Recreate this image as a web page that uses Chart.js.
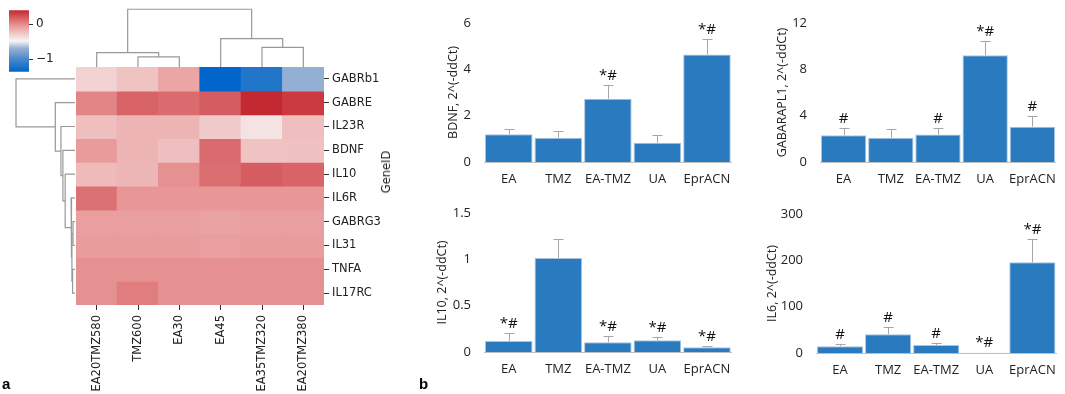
<!DOCTYPE html>
<html><head><meta charset="utf-8">
<script src="https://cdn.jsdelivr.net/npm/chart.js@4/dist/chart.umd.min.js"></script>
<style>
html,body{margin:0;padding:0;background:#fff;}
#wrap{position:relative;width:1065px;height:394px;overflow:hidden;background:#fff;}
canvas{position:absolute;}
.txt{position:absolute;white-space:nowrap;color:#222;}
</style></head><body>
<div id="wrap">
<canvas id="heat" style="left:0;top:0" width="400" height="394"></canvas>
<canvas id="dtop" style="left:76px;top:0" width="248" height="67"></canvas>
<canvas id="dleft" style="left:0;top:67px" width="75" height="238"></canvas>
<canvas id="cbar" style="left:0;top:0" width="70" height="82"></canvas>
<canvas id="c1" style="left:400px;top:0" width="340" height="195"></canvas>
<canvas id="c2" style="left:740px;top:0" width="325" height="195"></canvas>
<canvas id="c3" style="left:400px;top:190px" width="340" height="204"></canvas>
<canvas id="c4" style="left:740px;top:190px" width="325" height="204"></canvas>
<div class="txt" style="left:386px;top:172px;font:11.5px 'DejaVu Sans';transform:translate(-50%,-50%) rotate(-90deg);">GeneID</div>
<div class="txt" style="left:2px;top:375px;font:bold 15px 'Liberation Sans';line-height:17px;color:#000;">a</div>
<div class="txt" style="left:419px;top:375px;font:bold 15px 'Liberation Sans';line-height:17px;color:#000;">b</div>
</div>
<script>
// ---------- heatmap data ----------
const samples = ['EA20TMZ580','TMZ600','EA30','EA45','EA35TMZ320','EA20TMZ380'];
const genes = ['GABRb1','GABRE','IL23R','BDNF','IL10','IL6R','GABRG3','IL31','TNFA','IL17RC'];
const heatValues = [
  [-0.32,-0.25,-0.11,-1.36,-1.19,-0.70],
  [ 0.03, 0.16, 0.13, 0.19, 0.40, 0.33],
  [-0.23,-0.18,-0.18,-0.29,-0.40,-0.23],
  [-0.06,-0.18,-0.23, 0.13,-0.25,-0.24],
  [-0.21,-0.19,-0.02, 0.12, 0.19, 0.16],
  [ 0.11,-0.04,-0.04,-0.04,-0.04,-0.04],
  [-0.08,-0.08,-0.08,-0.10,-0.08,-0.08],
  [-0.07,-0.07,-0.07,-0.08,-0.07,-0.07],
  [-0.02,-0.02,-0.02,-0.02,-0.02,-0.02],
  [-0.02, 0.06,-0.02,-0.02,-0.02,-0.02]
];
const cbMin = -1.36, cbMax = 0.40;
const cbTicks = [-1, 0];
// dendrogram linkages: [left node, right node, distance]
const colLinkage = [[1,2,0.35],[0,6,0.50],[4,5,0.68],[3,8,0.98],[7,9,2.0]];
const rowLinkage = [[8,9,0.085],[6,7,0.07],[11,10,0.11],[5,12,0.14],[4,13,0.35],[3,14,0.43],[2,15,0.50],[1,16,0.70],[0,17,2.1]];

// ---------- bar chart data ----------
const groups = ['EA','TMZ','EA-TMZ','UA','EprACN'];
const bdnfVals = [1.2, 1.05, 2.73, 0.83, 4.64];
const bdnfErr  = [0.23, 0.27, 0.59, 0.32, 0.65];
const bdnfMarks = ['', '', '*#', '', '*#'];
const gabaVals = [2.3, 2.1, 2.38, 9.22, 3.05];
const gabaErr  = [0.63, 0.77, 0.52, 1.24, 0.89];
const gabaMarks = ['#', '', '#', '*#', '#'];
const il10Vals = [0.12, 1.015, 0.104, 0.128, 0.05];
const il10Err  = [0.08, 0.205, 0.071, 0.032, 0.01];
const il10Marks = ['*#', '', '*#', '*#', '*#'];
const il6Vals = [14.4, 40.6, 17.4, 0.5, 195.7];
const il6Err  = [5.6, 15.1, 4.3, 0, 49.3];
const il6Marks = ['#', '#', '#', '*#', '*#'];

// ---------- helpers ----------
const FH = '"DejaVu Sans", sans-serif';
const FB = '"Open Sans", sans-serif';
const cmapStops = [[0,[0,102,204]],[0.2,[70,135,200]],[0.38,[150,176,212]],[0.5,[248,244,244]],[0.75,[232,150,150]],[1,[196,40,48]]];
const rgb = c => `rgb(${Math.round(c[0])},${Math.round(c[1])},${Math.round(c[2])})`;
function cmap(v){
  let t = (v - cbMin)/(cbMax - cbMin); t = Math.max(0, Math.min(1, t));
  for (let i=1;i<cmapStops.length;i++){
    const [t0,c0]=cmapStops[i-1],[t1,c1]=cmapStops[i];
    if (t<=t1){ const f=(t-t0)/(t1-t0); return rgb(c0.map((a,k)=>a+(c1[k]-a)*f)); }
  }
  return rgb(cmapStops[cmapStops.length-1][1]);
}
const base = {responsive:false, animation:false, events:[], plugins:{legend:{display:false}, tooltip:{enabled:false}}};

// ---------- heatmap ----------
new Chart(document.getElementById('heat'), {
  type:'bar',
  data:{labels:samples, datasets: genes.map((g,r)=>({
    label:g, data: samples.map(()=>[r, r+1]),
    backgroundColor: heatValues[r].map(cmap),
    borderWidth:0, barPercentage:1, categoryPercentage:1, grouped:false, inflateAmount:0.6
  }))},
  options:{...base,
    layout:{padding:{left:76, top:67, right:0, bottom:0}},
    scales:{
      x:{offset:true, grid:{display:true, offset:false, drawOnChartArea:false, drawTicks:true, tickLength:5, color:'#333'}, border:{display:false},
         ticks:{autoSkip:false, minRotation:90, maxRotation:90, padding:5, color:'#222', font:{family:FH, size:11.5}},
         afterFit:s=>{s.height=89;}},
      y:{position:'right', min:0, max:10, reverse:true,
         grid:{display:true, drawOnChartArea:false, drawTicks:true, tickLength:5, color:'#333'}, border:{display:false},
         ticks:{padding:3, color:'#222', font:{family:FH, size:11.5}, callback:(v,i)=>genes[i]},
         afterBuildTicks:s=>{s.ticks = genes.map((g,i)=>({value:i+0.5}));},
         afterFit:s=>{s.width=76;}}
    }
  }
});

// ---------- dendrograms ----------
function dendroSegments(n, linkage){
  const pos=[], hgt=[];
  for(let i=0;i<n;i++){pos[i]=i; hgt[i]=0;}
  return linkage.map(([a,b,h],k)=>{
    const seg=[[pos[a],hgt[a]],[pos[a],h],[pos[b],h],[pos[b],hgt[b]]];
    pos[n+k]=(pos[a]+pos[b])/2; hgt[n+k]=h;
    return seg;
  });
}
const dlineStyle = {showLine:true, pointRadius:0, borderColor:'#999', borderWidth:1.2, fill:false, tension:0};
new Chart(document.getElementById('dtop'), {
  type:'scatter',
  data:{datasets: dendroSegments(samples.length, colLinkage).map(seg=>({...dlineStyle, data: seg.map(([p,h])=>({x:p, y:h}))}))},
  options:{...base, layout:{padding:0}, scales:{x:{display:false, min:-0.5, max:5.5}, y:{display:false, min:0, max:2.32}}}
});
new Chart(document.getElementById('dleft'), {
  type:'scatter',
  data:{datasets: dendroSegments(genes.length, rowLinkage).map(seg=>({...dlineStyle, data: seg.map(([p,h])=>({x:h, y:p+0.5}))}))},
  options:{...base, layout:{padding:0}, scales:{x:{display:false, min:0, max:2.67, reverse:true}, y:{display:false, min:0, max:10, reverse:true}}}
});

// ---------- colorbar ----------
new Chart(document.getElementById('cbar'), {
  type:'bar',
  data:{labels:[''], datasets:[{data:[[cbMin, cbMax]], borderWidth:0, barPercentage:1, categoryPercentage:1,
    backgroundColor:(ctx)=>{
      const ch=ctx.chart, ca=ch.chartArea; if(!ca) return '#fff';
      const g=ch.ctx.createLinearGradient(0, ca.bottom, 0, ca.top);
      cmapStops.forEach(([t,c])=>g.addColorStop(t, rgb(c)));
      return g;
    }}]},
  options:{...base, layout:{padding:{left:9, top:3, bottom:6, right:0}},
    scales:{x:{display:false},
      y:{position:'right', min:cbMin, max:cbMax,
         grid:{display:true, drawOnChartArea:false, drawTicks:true, tickLength:4, color:'#333'}, border:{display:false},
         ticks:{padding:3, color:'#222', font:{family:FH, size:12}, callback:v=> v<0 ? '\u2212'+Math.abs(v) : String(v)},
         afterBuildTicks:s=>{s.ticks = cbTicks.map(v=>({value:v}));},
         afterFit:s=>{s.width=41;}}}}
});

// ---------- bar charts ----------
const errPlugin = {
  id:'errbars',
  afterDatasetsDraw(chart){
    const ctx=chart.ctx, ds=chart.data.datasets[0], meta=chart.getDatasetMeta(0), ys=chart.scales.y;
    ctx.save();
    meta.data.forEach((bar,i)=>{
      let top = bar.y;
      const e = ds.errs[i];
      if (e > 0){
        const ey = Math.round(ys.getPixelForValue(ds.data[i]+e))+0.5;
        const x = Math.round(bar.x)+0.5;
        ctx.strokeStyle='#a6a6a6'; ctx.lineWidth=1;
        ctx.beginPath(); ctx.moveTo(x, bar.y); ctx.lineTo(x, ey);
        ctx.moveTo(x-5, ey); ctx.lineTo(x+5, ey); ctx.stroke();
        top = ey;
      }
      const m = ds.marks[i];
      if (m){
        ctx.fillStyle='#111'; ctx.font='15px '+FB; ctx.textAlign='center'; ctx.textBaseline='alphabetic';
        ctx.fillText(m, bar.x, top-6);
      }
    });
    ctx.restore();
  }
};
function barChart(id, vals, errs, marks, yMax, yStep, title, L){
  new Chart(document.getElementById(id), {
    type:'bar',
    data:{labels:groups, datasets:[{data:vals, errs:errs, marks:marks, backgroundColor:'#2a7ac0', borderColor:'#a9c4de', borderWidth:1,
      categoryPercentage:0.96, barPercentage:1}]},
    options:{...base,
      layout:{padding:{left:L.pl, top:L.pt, right:L.pr, bottom:0}},
      scales:{
        x:{grid:{display:false, drawTicks:false}, border:{display:true, color:'#bfbfbf', width:1},
           ticks:{padding:9, maxRotation:0, minRotation:0, autoSkip:false, color:'#222', font:{family:FB, size:13}}, afterFit:s=>{s.height=L.hx;}},
        y:{min:0, max:yMax, grid:{display:false, drawTicks:false}, border:{display:false},
           ticks:{stepSize:yStep, padding:13, color:'#222', font:{family:FB, size:13}, callback:v=>String(+v.toFixed(2))},
           title:{display:true, text:title, color:'#222', font:{family:FB, size:12.5}, padding:{top:0, bottom:0}},
           afterFit:s=>{s.width=L.wy;}}
      }
    },
    plugins:[errPlugin]
  });
}
barChart('c1', bdnfVals, bdnfErr, bdnfMarks, 6, 2, 'BDNF, 2^(-ddCt)', {pl:46, wy:38, pt:23, pr:7, hx:33});
barChart('c2', gabaVals, gabaErr, gabaMarks, 12, 4, 'GABARAPL1, 2^(-ddCt)', {pl:35, wy:45, pt:23, pr:3, hx:33});
barChart('c3', il10Vals, il10Err, il10Marks, 1.5, 0.5, 'IL10, 2^(-ddCt)', {pl:35, wy:49, pt:23, pr:7, hx:42});
barChart('c4', il6Vals, il6Err, il6Marks, 300, 100, 'IL6, 2^(-ddCt)', {pl:25, wy:51, pt:24, pr:3, hx:41});
</script>
</body></html>
